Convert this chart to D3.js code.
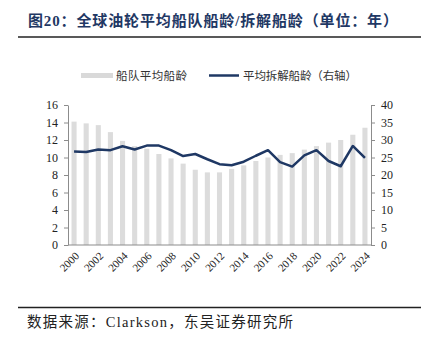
<!DOCTYPE html>
<html>
<head>
<meta charset="utf-8">
<script src="https://cdn.jsdelivr.net/npm/d3@7"></script>
<style>
  html, body { margin: 0; padding: 0; background: #fff; }
  svg { display: block; }
</style>
</head>
<body>
<svg id="chart" width="425" height="339"></svg>
<script>
// Years on the category axis
const years = d3.range(2000, 2025).map(String);
// Average fleet age of the global tanker fleet (left axis, years)
const fleetAge = [14.1, 13.9, 13.7, 12.9, 11.9, 11.3, 11.0, 10.4, 9.9, 9.3, 8.6, 8.3, 8.3,
                  8.7, 9.1, 9.6, 10.0, 10.3, 10.5, 10.9, 11.3, 11.7, 12.0, 12.6, 13.4];
// Average demolition age (right axis, years)
const scrapAge = [26.7, 26.6, 27.3, 27.1, 28.2, 27.3, 28.4, 28.4, 27.1, 25.4, 26.0, 24.5, 23.1,
                  22.8, 23.8, 25.5, 27.1, 23.7, 22.4, 25.6, 27.1, 24.0, 22.5, 28.3, 24.9];
const leftTicks = [0, 2, 4, 6, 8, 10, 12, 14, 16];
const rightTicks = [0, 5, 10, 15, 20, 25, 30, 35, 40];
const yearLabels = years.filter((d, i) => i % 2 === 0);

const titleText = "图20：全球油轮平均船队船龄/拆解船龄（单位：年）";
const sourceText = "数据来源：Clarkson，东吴证券研究所";
const legendBar = "船队平均船龄";
const legendLine = "平均拆解船龄（右轴）";

const svg = d3.select("#chart");
// Latin glyphs in a Times-like serif, CJK glyphs fall through to Noto CJK
const mixed = "'Liberation Serif', 'Noto Sans CJK SC', serif";
const serif = "'Liberation Serif', 'DejaVu Serif', serif";
const navy = "#1f3864";
const axisGrey = "#8c8c8c";

const plot = { left: 68, right: 371, top: 105, bottom: 245 };

const x = d3.scaleBand().domain(years).range([plot.left, plot.right]).paddingInner(0.58).paddingOuter(0.29);
const yL = d3.scaleLinear().domain([0, 16]).range([plot.bottom, plot.top]);
const yR = d3.scaleLinear().domain([0, 40]).range([plot.bottom, plot.top]);

// Title and rules
svg.append("text")
  .attr("x", 28).attr("y", 26)
  .attr("font-family", mixed).attr("font-weight", "bold")
  .attr("font-size", 15).attr("fill", navy)
  .attr("textLength", 370).attr("lengthAdjust", "spacing")
  .text(titleText);
svg.append("line").attr("x1", 18).attr("x2", 421).attr("y1", 37).attr("y2", 37)
  .attr("stroke", "#222").attr("stroke-width", 1.5);
svg.append("line").attr("x1", 18).attr("x2", 421).attr("y1", 307.5).attr("y2", 307.5)
  .attr("stroke", "#222").attr("stroke-width", 1.5);
svg.append("text")
  .attr("x", 27).attr("y", 327)
  .attr("font-family", mixed).attr("font-size", 14.5).attr("fill", "#222")
  .attr("textLength", 266).attr("lengthAdjust", "spacing")
  .text(sourceText);

// Legend
svg.append("rect").attr("x", 81).attr("y", 73).attr("width", 32).attr("height", 5).attr("fill", "#d9d9d9");
svg.append("text").attr("x", 116).attr("y", 80)
  .attr("font-family", mixed).attr("font-size", 11.5).attr("fill", "#333")
  .attr("textLength", 71).attr("lengthAdjust", "spacing").text(legendBar);
svg.append("line").attr("x1", 209).attr("x2", 239).attr("y1", 75.5).attr("y2", 75.5)
  .attr("stroke", navy).attr("stroke-width", 2.5);
svg.append("text").attr("x", 243).attr("y", 80)
  .attr("font-family", mixed).attr("font-size", 11.5).attr("fill", "#333")
  .attr("textLength", 114).attr("lengthAdjust", "spacing").text(legendLine);

// Bars
svg.append("g").selectAll("rect").data(fleetAge).join("rect")
  .attr("x", (d, i) => x(years[i]))
  .attr("width", x.bandwidth())
  .attr("y", d => yL(d))
  .attr("height", d => yL(0) - yL(d))
  .attr("fill", "#dcdcdc");

// Line
const line = d3.line()
  .x((d, i) => x(years[i]) + x.bandwidth() / 2)
  .y(d => yR(d));
svg.append("path").datum(scrapAge)
  .attr("d", line).attr("fill", "none")
  .attr("stroke", navy).attr("stroke-width", 2.5).attr("stroke-linejoin", "round");

// Axes
function styleAxis(g) {
  g.selectAll(".domain, .tick line").attr("stroke", axisGrey);
  g.selectAll("text").attr("font-family", serif).attr("font-size", 12).attr("fill", "#222");
}
svg.append("g").attr("transform", `translate(${plot.left},0)`)
  .call(d3.axisLeft(yL).tickValues(leftTicks).tickSize(4).tickSizeOuter(0).tickPadding(6))
  .call(styleAxis);
svg.append("g").attr("transform", `translate(${plot.right},0)`)
  .call(d3.axisRight(yR).tickValues(rightTicks).tickSize(4).tickSizeOuter(0).tickPadding(6))
  .call(styleAxis);
const xg = svg.append("g").attr("transform", `translate(0,${plot.bottom})`)
  .call(d3.axisBottom(x).tickValues(yearLabels).tickSize(0).tickSizeOuter(0).tickFormat(""))
  .call(styleAxis);
xg.select(".domain").attr("d", `M${plot.left},0H${plot.right}`);

// Diagonal year labels, anchored at their end just below each bar
svg.append("g").selectAll("text").data(yearLabels).join("text")
  .attr("transform", d => `translate(${x(d) + x.bandwidth() / 2 + 3},${plot.bottom + 9}) rotate(-45)`)
  .attr("text-anchor", "end")
  .attr("dy", "0.35em")
  .attr("font-family", serif).attr("font-size", 11).attr("fill", "#222")
  .text(d => d);
</script>
</body>
</html>
